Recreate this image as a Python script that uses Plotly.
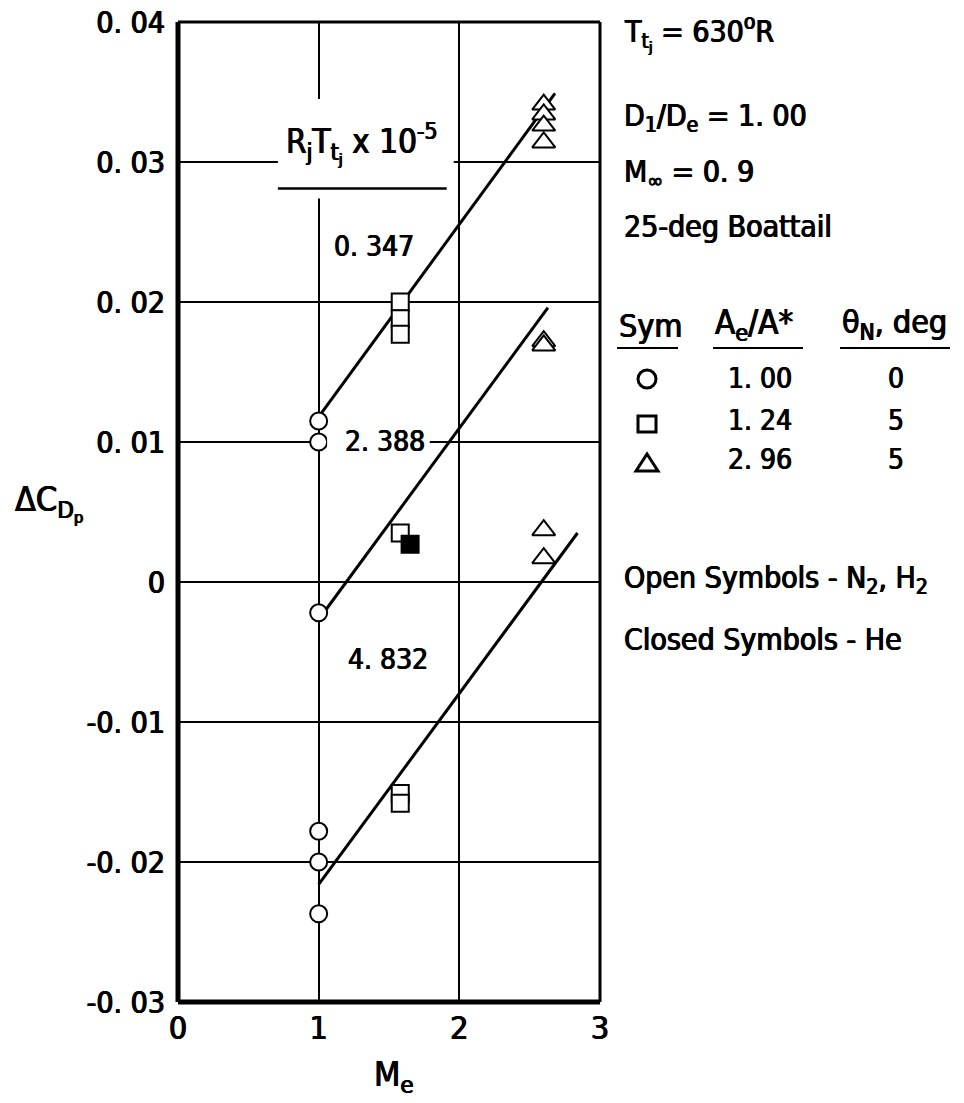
import plotly.graph_objects as go

# Exit Mach number M_e and incremental pressure-drag coefficient for each nozzle
circle_me = [1.0, 1.0, 1.0, 1.0, 1.0, 1.0]
circle_dcdp = [0.0115, 0.0100, -0.0022, -0.0178, -0.0200, -0.0237]

square_me = [1.58, 1.58, 1.58, 1.58, 1.58, 1.58]
square_dcdp = [0.0200, 0.0188, 0.0177, 0.0035, -0.0151, -0.0158]

closed_square_me = [1.65]
closed_square_dcdp = [0.0027]

triangle_me = [2.60, 2.60, 2.60, 2.60, 2.60, 2.60, 2.60, 2.60]
triangle_dcdp = [0.0341, 0.0334, 0.0326, 0.0314, 0.0172, 0.0169, 0.0037, 0.0017]

# Faired lines, one per R_j*T_tj group
fair_labels = ["0. 347", "2. 388", "4. 832"]
fair_me = [[1.0, 2.68], [1.05, 2.63], [1.0, 2.84]]
fair_dcdp = [[0.0118, 0.0349], [-0.0020, 0.0196], [-0.0216, 0.0035]]

x_ticks = [0, 1, 2, 3]
x_ticktext = ["0", "1", "2", "3"]
y_ticks = [0.04, 0.03, 0.02, 0.01, 0.0, -0.01, -0.02, -0.03]
y_ticktext = ["0. 04", "0. 03", "0. 02", "0. 01", "0", "-0. 01", "-0. 02", "-0. 03"]

# Symbol table
table_area_ratio = ["1. 00", "1. 24", "2. 96"]
table_theta = ["0", "5", "5"]

FONT = "DejaVu Sans Condensed, DejaVu Sans, sans-serif"
SHADOW = "0.6px 0 0 black, -0.6px 0 0 black"

W, H = 964, 1103
L, R, T, B = 178, 600, 22, 1002


def px(x):
    return (x - L) / (R - L)


def py(y):
    return (B - y) / (B - T)


fig = go.Figure()

for xs, ys in zip(fair_me, fair_dcdp):
    fig.add_trace(go.Scatter(x=xs, y=ys, mode="lines",
                             line=dict(color="black", width=3), hoverinfo="skip"))

open_marker = dict(color="white", line=dict(color="black", width=2))
fig.add_trace(go.Scatter(x=circle_me, y=circle_dcdp, mode="markers",
                         marker=dict(symbol="circle", size=17, **open_marker)))
fig.add_trace(go.Scatter(x=square_me, y=square_dcdp, mode="markers",
                         marker=dict(symbol="square", size=17, **open_marker)))
fig.add_trace(go.Scatter(x=closed_square_me, y=closed_square_dcdp, mode="markers",
                         marker=dict(symbol="square", size=17, color="black",
                                     line=dict(color="black", width=2))))
fig.add_trace(go.Scatter(x=triangle_me, y=triangle_dcdp, mode="markers",
                         marker=dict(symbol="triangle-up", size=20, **open_marker)))

shapes = []
# white backing behind the in-plot labels (breaks the grid lines)
shapes.append(dict(type="rect", xref="x", yref="y", x0=0.71, x1=1.96, y0=0.0274, y1=0.0345,
                   fillcolor="white", line=dict(width=0), layer="above"))
shapes.append(dict(type="rect", xref="x", yref="y", x0=1.06, x1=1.79, y0=0.0093, y1=0.0107,
                   fillcolor="white", line=dict(width=0), layer="above"))
# header rule under R_j T_tj label
shapes.append(dict(type="line", xref="x", yref="y", x0=0.71, x1=1.91, y0=0.0281, y1=0.0281,
                   line=dict(color="black", width=2.5), layer="above"))
# frame: heavy left and bottom, lighter top and right
shapes.append(dict(type="line", xref="x domain", yref="y domain", x0=0, x1=0, y0=0, y1=1,
                   line=dict(color="black", width=5), layer="above"))
shapes.append(dict(type="line", xref="x domain", yref="y domain", x0=0, x1=1, y0=0, y1=0,
                   line=dict(color="black", width=5), layer="above"))
shapes.append(dict(type="line", xref="x domain", yref="y domain", x0=1, x1=1, y0=0, y1=1,
                   line=dict(color="black", width=3), layer="above"))
shapes.append(dict(type="line", xref="x domain", yref="y domain", x0=0, x1=1, y0=1, y1=1,
                   line=dict(color="black", width=3), layer="above"))
# table header underlines
for x0, x1 in [(617, 678), (713, 803), (840, 950)]:
    shapes.append(dict(type="line", xref="paper", yref="paper", x0=px(x0), x1=px(x1),
                       y0=py(348), y1=py(348), line=dict(color="black", width=2)))

# table key symbols (circle, square, triangle), sized in pixels
sym_x = px(647)
shapes.append(dict(type="circle", xref="paper", yref="paper", xsizemode="pixel",
                   ysizemode="pixel", xanchor=sym_x, yanchor=py(379),
                   x0=-9, x1=9, y0=-9, y1=9, line=dict(color="black", width=3)))
shapes.append(dict(type="rect", xref="paper", yref="paper", xsizemode="pixel",
                   ysizemode="pixel", xanchor=sym_x, yanchor=py(424),
                   x0=-9, x1=9, y0=-8, y1=8, line=dict(color="black", width=3)))
shapes.append(dict(type="path", xref="paper", yref="paper", xsizemode="pixel",
                   ysizemode="pixel", xanchor=sym_x, yanchor=py(463),
                   path="M -11,-8 L 11,-8 L 0,9 Z", line=dict(color="black", width=3)))

ann = []


def note(text, x, y, xanchor="center", yanchor="middle", size=30,
         xref="paper", yref="paper"):
    ann.append(dict(text=text, x=x, y=y, xref=xref, yref=yref, xanchor=xanchor,
                    yanchor=yanchor, showarrow=False,
                    font=dict(family=FONT, size=size, color="black", shadow=SHADOW)))


# in-plot labels
note("R<sub>j</sub>T<sub>t<sub>j</sub></sub> x 10<sup>-5</sup>", 1.31, 0.0313,
     xref="x", yref="y", size=33)
for lab, (xl, yl) in zip(fair_labels, [(1.39, 0.0240), (1.475, 0.01006), (1.49, -0.0055)]):
    note(lab, xl, yl, xref="x", yref="y", size=28)

# test conditions
note("T<sub>t<sub>j</sub></sub> = 630<sup>o</sup>R", px(622), py(32), xanchor="left")
note("D<sub>1</sub>/D<sub>e</sub> = 1. 00", px(622), py(117), xanchor="left")
note("M<sub>∞</sub> = 0. 9", px(622), py(174), xanchor="left")
note("25-deg Boattail", px(622), py(226), xanchor="left")

# symbol table
note("Sym", px(617), py(326), xanchor="left", size=32)
note("A<sub>e</sub>/A*", px(713), py(324), xanchor="left", size=33)
note("θ<sub>N</sub>, deg", px(840), py(324), xanchor="left", size=32)
for ar, th, yy in zip(table_area_ratio, table_theta, [378, 420, 459]):
    note(ar, px(760), py(yy), size=28)
    note(th, px(896), py(yy), size=28)

note("Open Symbols - N<sub>2</sub>, H<sub>2</sub>", px(622), py(579), xanchor="left")
note("Closed Symbols - He", px(622), py(639), xanchor="left")

# axis titles
note("ΔC<sub>D<sub>p</sub></sub>", px(13), py(503), xanchor="left", size=34)
note("M<sub>e</sub>", px(372), py(1076), xanchor="left", size=34)

fig.update_layout(
    width=W, height=H,
    margin=dict(l=L, r=W - R, t=T, b=H - B, pad=0),
    plot_bgcolor="white", paper_bgcolor="white",
    showlegend=False,
    shapes=shapes,
    annotations=ann,
    font=dict(family=FONT, size=30, color="black"),
)
fig.update_xaxes(range=[0, 3], tickvals=x_ticks, ticktext=x_ticktext, automargin=False,
                 showgrid=True, gridcolor="black", gridwidth=2, zeroline=False,
                 showline=False, ticks="", ticklabelstandoff=4,
                 tickfont=dict(family=FONT, size=32, color="black", shadow=SHADOW))
fig.update_yaxes(range=[-0.03, 0.04], tickvals=y_ticks, ticktext=y_ticktext, automargin=False,
                 showgrid=True, gridcolor="black", gridwidth=2, zeroline=False,
                 showline=False, ticks="", ticklabelstandoff=12,
                 tickfont=dict(family=FONT, size=30, color="black", shadow=SHADOW))

fig.write_html("out.html")
